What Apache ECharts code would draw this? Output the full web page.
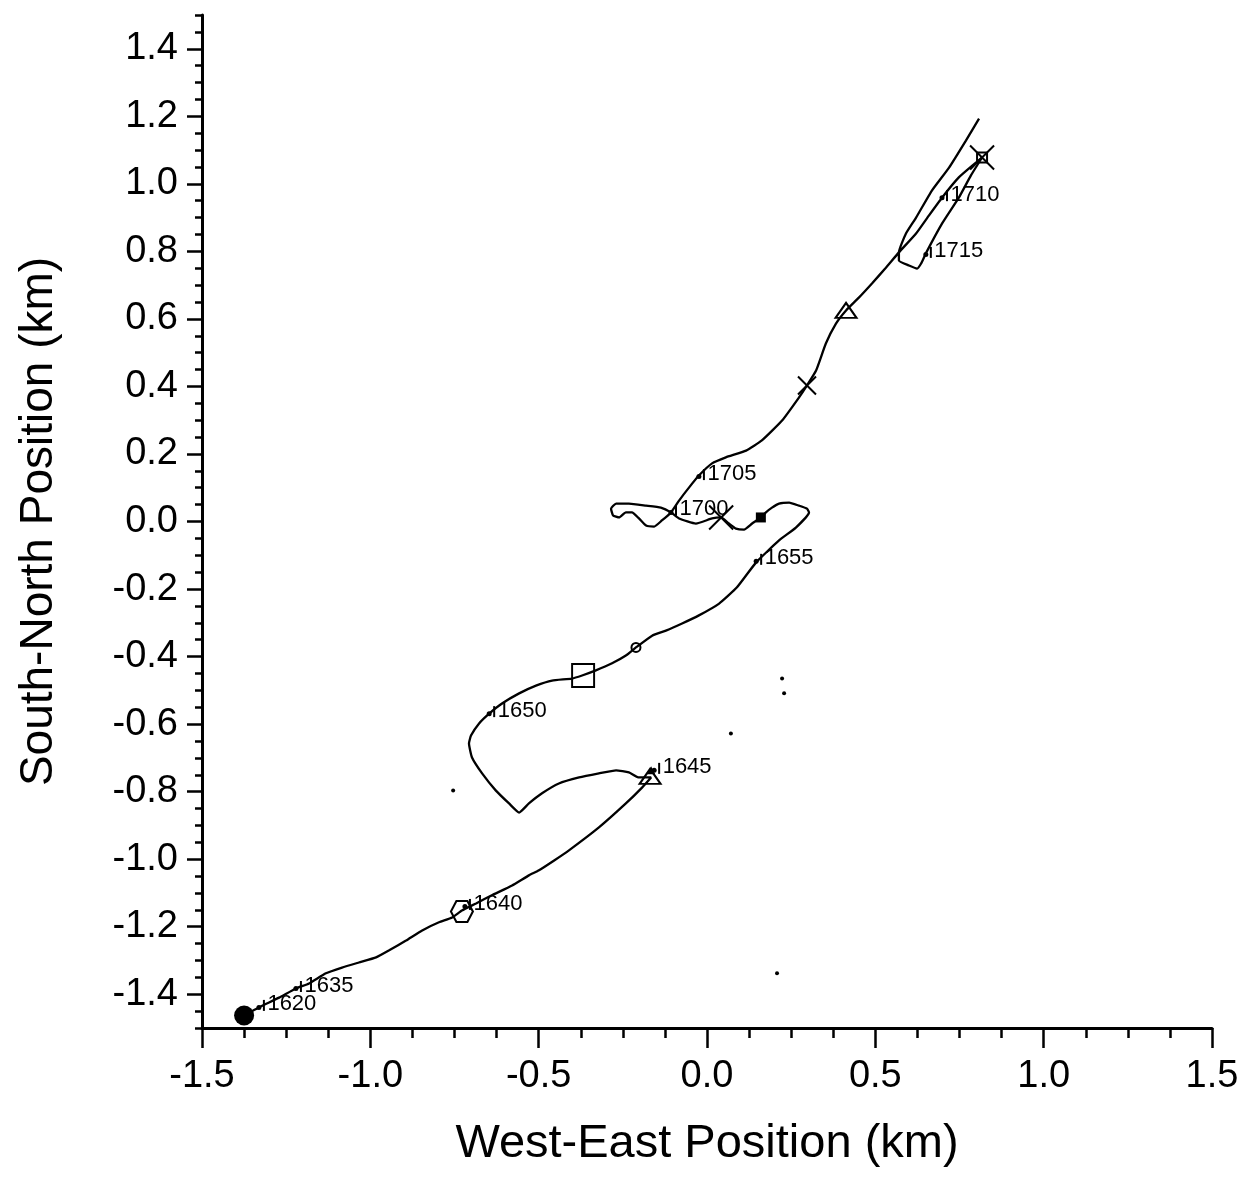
<!DOCTYPE html>
<html>
<head>
<meta charset="utf-8">
<script src="https://cdn.jsdelivr.net/npm/echarts@6/dist/echarts.min.js"></script>
<style>html,body{margin:0;padding:0;background:#fff}#c{width:1250px;height:1178px}</style>
</head>
<body>
<div id="c"></div>
<script>
// Track (West-East km, South-North km) in time order
const trackX = [-1.375,-1.331,-1.271,-1.221,-1.182,-1.132,-1.084,-1.034,-0.983,-0.944,-0.894,-0.846,-0.796,-0.757,-0.728,-0.686,-0.639,-0.579,-0.529,-0.499,-0.454,-0.410,-0.321,-0.241,-0.193,-0.166,
  -0.202,-0.232,-0.270,-0.321,-0.380,-0.440,-0.490,-0.529,-0.558,-0.588,-0.627,-0.668,-0.698,-0.707,-0.701,-0.677,-0.647,-0.609,-0.558,-0.508,-0.460,-0.401,-0.371,-0.330,-0.282,-0.241,-0.211,-0.163,-0.122,-0.074,-0.024,0.036,0.089,0.146,0.214,0.264,0.303,
  0.297,0.273,0.244,0.214,0.193,0.175,0.160,0.134,0.110,0.086,0.065,0.042,0.015,-0.033,-0.083,-0.107,
  -0.137,-0.181,-0.232,-0.270,-0.285,-0.279,-0.261,-0.241,-0.223,-0.202,-0.181,-0.157,-0.134,-0.107,
  -0.083,-0.053,-0.024,0.015,0.056,0.116,0.163,0.223,0.273,0.297,0.324,0.353,0.383,0.413,0.451,0.490,0.530,0.570,
  0.621,0.659,0.698,0.748,0.799,0.817,0.784,0.748,0.698,0.650,0.636,0.624,0.600,0.570,0.570,0.591,0.621,0.668,0.719,0.769,0.808];
const trackY = [-1.463,-1.439,-1.410,-1.383,-1.368,-1.338,-1.321,-1.306,-1.291,-1.270,-1.241,-1.211,-1.187,-1.173,-1.152,-1.131,-1.107,-1.078,-1.048,-1.033,-1.004,-0.974,-0.906,-0.835,-0.788,-0.758,
  -0.758,-0.743,-0.737,-0.746,-0.758,-0.776,-0.805,-0.835,-0.862,-0.835,-0.797,-0.746,-0.699,-0.657,-0.634,-0.598,-0.569,-0.539,-0.509,-0.486,-0.471,-0.465,-0.456,-0.441,-0.420,-0.397,-0.373,-0.338,-0.323,-0.302,-0.278,-0.243,-0.195,-0.121,-0.056,-0.018,0.027,
  0.038,0.047,0.056,0.053,0.041,0.027,0.012,-0.006,-0.024,-0.021,-0.006,0.012,0.009,-0.006,0.009,0.027,
  0.041,0.047,0.053,0.053,0.038,0.018,0.012,0.027,0.027,0.009,-0.012,-0.015,0.003,0.027,
  0.062,0.101,0.136,0.172,0.190,0.210,0.240,0.299,0.367,0.403,0.447,0.527,0.586,0.625,0.663,0.705,0.750,0.797,
  0.853,0.906,0.959,1.019,1.063,1.078,1.025,0.959,0.882,0.794,0.764,0.749,0.758,0.773,0.797,0.853,0.900,0.980,1.048,1.128,1.193];

// Time marks
const timeLabels = ['1620','1635','1640','1645','1650','1655','1700','1705','1710','1715'];
const timeX = [-1.331,-1.221,-0.719,-0.157,-0.647,0.146,-0.107,-0.024,0.698,0.650];
const timeY = [-1.439,-1.383,-1.140,-0.737,-0.569,-0.118,0.027,0.133,0.959,0.791];

// Special symbols
const startX = [-1.375], startY = [-1.463];
const hexX = [-0.728], hexY = [-1.155];
const openTriX = [-0.169, 0.413], openTriY = [-0.755, 0.625];
const fillTriX = [-0.166], fillTriY = [-0.737];
const openSqX = [-0.368], openSqY = [-0.456];
const smallSqX = [0.817], smallSqY = [1.078];
const openCircX = [-0.211], openCircY = [-0.373];
const fillSqX = [0.160], fillSqY = [0.012];
const crossX = [0.042, 0.297, 0.817], crossY = [0.012, 0.403, 1.078];
const crossSize = [24, 18, 24];
const strayX = [0.071, 0.208, -0.754, 0.223, 0.229];
const strayY = [-0.628, -1.338, -0.797, -0.465, -0.509];

// Axis ticks
const yLabelValues = [-1.4,-1.2,-1.0,-0.8,-0.6,-0.4,-0.2,0.0,0.2,0.4,0.6,0.8,1.0,1.2,1.4];

const FONT = "'Liberation Sans', Arial, Helvetica, sans-serif";
const zip = (a, b) => a.map((v, i) => [v, b[i]]);
const HEX = 'path://M5,0 L15,0 L20,8.66 L15,17.32 L5,17.32 L0,8.66 Z';
const XPATH = 'path://M0,0 L20,20 M20,0 L0,20';
const open = {color: 'rgba(0,0,0,0)', borderColor: '#000', borderWidth: 2, opacity: 1};
const solid = {color: '#000', opacity: 1};

const chart = echarts.init(document.getElementById('c'), null, {renderer: 'canvas'});
chart.setOption({
  backgroundColor: '#fff',
  animation: false,
  grid: {left: 202, right: 38, top: 15, bottom: 150, containLabel: false},
  xAxis: {
    type: 'value', min: -1.5, max: 1.5, interval: 0.5,
    name: 'West-East Position (km)', nameLocation: 'middle', nameGap: 93,
    nameTextStyle: {fontFamily: FONT, fontSize: 47, color: '#000'},
    axisLine: {onZero: false, lineStyle: {color: '#000', width: 3}},
    axisTick: {show: true, inside: false, length: 20, lineStyle: {color: '#000', width: 2.5}},
    minorTick: {show: true, splitNumber: 4, length: 10, lineStyle: {color: '#000', width: 2.5}},
    axisLabel: {fontFamily: FONT, fontSize: 38, color: '#000', margin: 30, formatter: v => v.toFixed(1)},
    splitLine: {show: false}, minorSplitLine: {show: false}
  },
  yAxis: [{
    type: 'value', min: -1.5, max: 1.5,
    name: 'South-North Position (km)', nameLocation: 'middle', nameGap: 140, nameRotate: 90,
    nameTextStyle: {fontFamily: FONT, fontSize: 46, color: '#000'},
    axisLine: {onZero: false, lineStyle: {color: '#000', width: 3}},
    axisTick: {show: true, length: 15, customValues: yLabelValues, lineStyle: {color: '#000', width: 2.5}},
    axisLabel: {fontFamily: FONT, fontSize: 38, color: '#000', margin: 24, customValues: yLabelValues, formatter: v => v.toFixed(1)},
    splitLine: {show: false}
  }, {
    type: 'value', min: -1.5, max: 1.5, interval: 0.05, position: 'left',
    axisLine: {show: false, onZero: false},
    axisTick: {show: true, length: 7, lineStyle: {color: '#000', width: 2.5}},
    axisLabel: {show: false},
    splitLine: {show: false}
  }],
  series: [
    {type: 'line', data: zip(trackX, trackY), showSymbol: false, symbol: 'none', smooth: 0.15,
     lineStyle: {color: '#000', width: 2.3}, z: 2},
    {type: 'scatter', data: zip(timeX, timeY), symbol: 'circle', symbolSize: 5,
     itemStyle: solid, z: 5,
     label: {show: true, position: 'right', distance: 6, offset: [0, -3],
       fontFamily: FONT, fontSize: 22, color: '#000',
       formatter: p => timeLabels[p.dataIndex]}},
    {type: 'scatter', data: zip(timeX, timeY), symbol: 'rect', symbolSize: [2, 11], symbolOffset: [5, -2],
     itemStyle: solid, z: 5},
    {type: 'scatter', data: zip(startX, startY), symbol: 'circle', symbolSize: 20, itemStyle: solid, z: 6},
    {type: 'scatter', data: zip(hexX, hexY), symbol: HEX, symbolSize: [22, 21], itemStyle: open, z: 6},
    {type: 'scatter', data: zip(openTriX, openTriY), symbol: 'triangle', symbolSize: [21, 15], itemStyle: open, z: 6},
    {type: 'scatter', data: zip(fillTriX, fillTriY), symbol: 'triangle', symbolSize: [8, 8], itemStyle: solid, z: 6},
    {type: 'scatter', data: zip(openSqX, openSqY), symbol: 'rect', symbolSize: [22, 23], itemStyle: open, z: 6},
    {type: 'scatter', data: zip(smallSqX, smallSqY), symbol: 'rect', symbolSize: 10, itemStyle: open, z: 6},
    {type: 'scatter', data: zip(openCircX, openCircY), symbol: 'circle', symbolSize: 9, itemStyle: open, z: 6},
    {type: 'scatter', data: zip(fillSqX, fillSqY), symbol: 'rect', symbolSize: 10, itemStyle: solid, z: 6},
    {type: 'scatter', data: zip(crossX, crossY).map((d, i) => ({value: d, symbolSize: crossSize[i]})), symbol: XPATH,
     itemStyle: open, z: 6},
    {type: 'scatter', data: zip(strayX, strayY), symbol: 'circle', symbolSize: 4, itemStyle: solid, z: 4}
  ]
});
</script>
</body>
</html>
